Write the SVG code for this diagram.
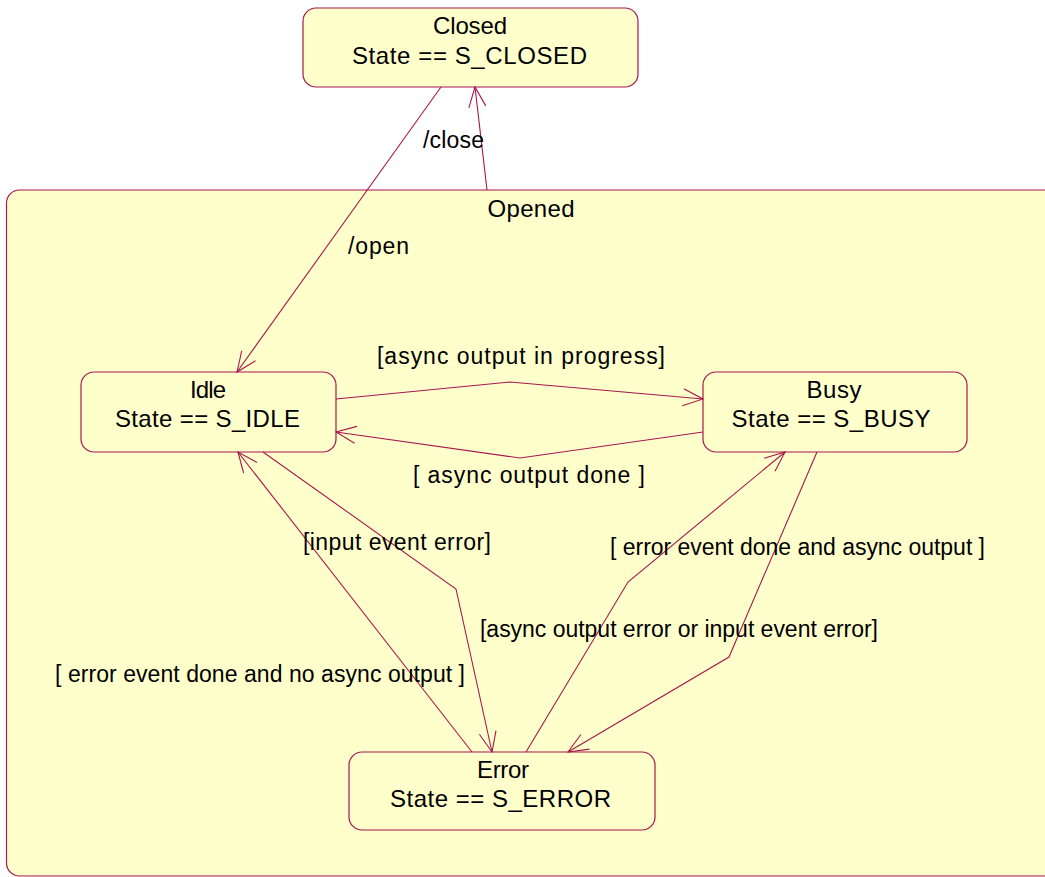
<svg xmlns="http://www.w3.org/2000/svg" width="1045" height="877" viewBox="0 0 1045 877">
<style>
.box{fill:#FFFFCC;stroke:#A8174E;stroke-width:1.2}
.ln{fill:none;stroke:#A8174E;stroke-width:1.1}
.nt{font-family:"Liberation Sans",Arial,sans-serif;font-size:24px;fill:#000;text-anchor:middle}
.lb{font-family:"Liberation Sans",Arial,sans-serif;font-size:23px;fill:#000}
</style>
<defs>
<marker id="arr" markerUnits="userSpaceOnUse" orient="auto" refX="0" refY="0" markerWidth="30" markerHeight="30" viewBox="-25 -12 30 24" overflow="visible">
<path d="M-20,-8.5 L0,0 L-20,8.5" fill="none" stroke="#A8174E" stroke-width="1.1"/>
</marker>
</defs>
<rect width="1045" height="877" fill="#FFFFFF"/>
<g id="opened">
<rect class="box" x="6.5" y="190" width="1080" height="686" rx="13"/>
<text class="nt" x="531" y="217" textLength="87" lengthAdjust="spacing">Opened</text>
</g>
<g id="closed">
<rect class="box" x="303" y="8" width="335" height="79" rx="13"/>
<text class="nt" x="470" y="34" textLength="74" lengthAdjust="spacing">Closed</text>
<text class="nt" x="469.5" y="64" textLength="235" lengthAdjust="spacing">State == S_CLOSED</text>
</g>
<g id="idle">
<rect class="box" x="81" y="372" width="255" height="80" rx="13"/>
<text class="nt" x="208" y="398" textLength="36" lengthAdjust="spacing">Idle</text>
<text class="nt" x="207.5" y="427" textLength="185" lengthAdjust="spacing">State == S_IDLE</text>
</g>
<g id="busy">
<rect class="box" x="703" y="372" width="264" height="80" rx="13"/>
<text class="nt" x="834" y="398" textLength="55" lengthAdjust="spacing">Busy</text>
<text class="nt" x="831" y="427" textLength="199" lengthAdjust="spacing">State == S_BUSY</text>
</g>
<g id="error">
<rect class="box" x="349" y="752" width="306" height="78" rx="13"/>
<text class="nt" x="503" y="778" textLength="52" lengthAdjust="spacing">Error</text>
<text class="nt" x="500.5" y="807" textLength="221" lengthAdjust="spacing">State == S_ERROR</text>
</g>
<g id="connectors">
<polyline class="ln" points="441,87 237,372" marker-end="url(#arr)"/>
<polyline class="ln" points="487,190 475,87" marker-end="url(#arr)"/>
<polyline class="ln" points="336,399 510,382 703,399" marker-end="url(#arr)"/>
<polyline class="ln" points="703,432 520,458 336,432" marker-end="url(#arr)"/>
<polyline class="ln" points="263,452 456,589 492,752" marker-end="url(#arr)"/>
<polyline class="ln" points="472,752 238,452" marker-end="url(#arr)"/>
<polyline class="ln" points="526,752 628,582 785,452" marker-end="url(#arr)"/>
<polyline class="ln" points="817,452 729,657 568,752" marker-end="url(#arr)"/>
</g>
<g id="labels">
<text class="lb" x="423" y="148" textLength="61" lengthAdjust="spacing">/close</text>
<text class="lb" x="348" y="254" textLength="61" lengthAdjust="spacing">/open</text>
<text class="lb" x="377" y="364" textLength="288" lengthAdjust="spacing">[async output in progress]</text>
<text class="lb" x="413" y="483" textLength="232" lengthAdjust="spacing">[ async output done ]</text>
<text class="lb" x="303" y="550" textLength="188" lengthAdjust="spacing">[input event error]</text>
<text class="lb" x="610" y="555" textLength="375" lengthAdjust="spacing">[ error event done and async output ]</text>
<text class="lb" x="480" y="637" textLength="398" lengthAdjust="spacing">[async output error or input event error]</text>
<text class="lb" x="55" y="682" textLength="410" lengthAdjust="spacing">[ error event done and no async output ]</text>
</g>
</svg>
